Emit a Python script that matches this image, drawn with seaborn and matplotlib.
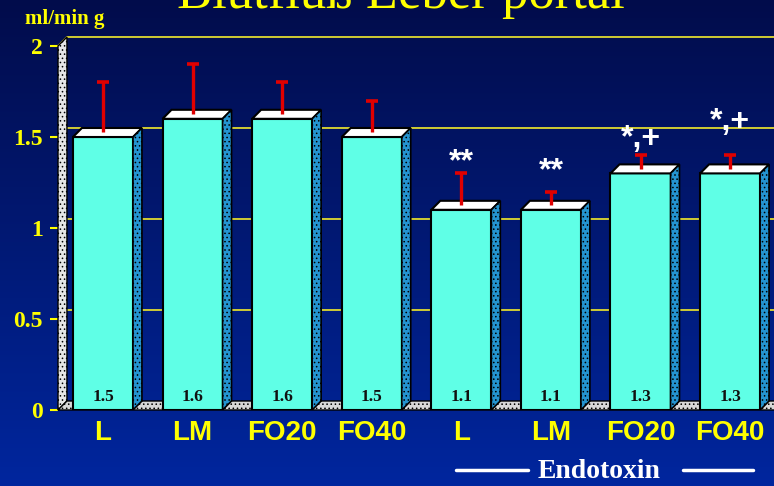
import numpy as np
import pandas as pd
import matplotlib
matplotlib.use('Agg')
import matplotlib.pyplot as plt
from matplotlib.patches import Polygon
from matplotlib.lines import Line2D
import seaborn as sns

# values
gruppen = ['L', 'LM', 'FO20', 'FO40', 'L', 'LM', 'FO20', 'FO40']
mittel = [1.5, 1.6, 1.6, 1.5, 1.1, 1.1, 1.3, 1.3]
sd = [0.3, 0.3, 0.2, 0.2, 0.2, 0.1, 0.1, 0.1]
signif = ['', '', '', '', '**', '**', '*,+', '*,+']
y_ticks = [0, 0.5, 1, 1.5, 2]
y_ticklabels = ['0', '0.5', '1', '1.5', '2']

# how high each significance mark sits above its error bar
sig_abstand = [0, 0, 0, 0, 0.06, 0.11, 0.09, 0.18]

GELB = '#FFFF00'
CYAN = '#5FFFE6'
SERIF = 'Liberation Serif'
SANS = 'Liberation Sans'

df = pd.DataFrame({'pos': range(len(mittel)), 'mittel': mittel})

sns.set_style('white')
plt.rcParams['hatch.linewidth'] = 0.6

fig = plt.figure(figsize=(7.74, 4.86), dpi=100)

# dark blue gradient behind everything
bg = fig.add_axes([0, 0, 1, 1], zorder=-1)
top = np.array([2, 12, 75]) / 255
bottom = np.array([0, 38, 158]) / 255
t = np.linspace(0, 1, 256)[:, None]
grad = top + (bottom - top) * t
bg.imshow(grad[:, None, :].repeat(2, axis=1), aspect='auto', extent=[0, 1, 0, 1])
bg.set_axis_off()

ax = fig.add_axes([58 / 774, 76 / 486, 716 / 774, 364 / 486])
ax.set_facecolor('none')

sns.barplot(data=df, x='pos', y='mittel', color=CYAN, saturation=1, width=0.67,
            edgecolor='black', linewidth=1.5, errorbar=None, ax=ax, zorder=2)

xl, xr = -0.502, 7.49
ax.set_xlim(xl, xr)
ax.set_ylim(0, 2)
DX, DY = 0.10, 0.0495   # depth of the fake 3d in data units

# back wall, floor and grid
wall = Polygon([(xl, 0), (xl, 2), (xl + DX, 2 + DY), (xl + DX, DY)], closed=True,
               facecolor='#e6e6e6', edgecolor='black', hatch='....', lw=1,
               clip_on=False, zorder=0.6)
ax.add_patch(wall)
floor = Polygon([(xl, 0), (xr + 1, 0), (xr + 1 + DX, DY), (xl + DX, DY)], closed=True,
                facecolor='#d8d8d8', edgecolor='black', hatch='....', lw=1,
                clip_on=False, zorder=0.6)
ax.add_patch(floor)
for v in y_ticks[1:]:
    ax.add_line(Line2D([xl, xl + DX, xr + 1], [v, v + DY, v + DY], color='#E0DA30',
                       lw=1.3, clip_on=False, zorder=0.5))

# tops and side faces of the bars
for p in ax.patches:
    if not hasattr(p, 'get_width') or p in (wall, floor):
        continue
    x0, w, h = p.get_x(), p.get_width(), p.get_height()
    ax.add_patch(Polygon([(x0, h), (x0 + w, h), (x0 + w + DX, h + DY), (x0 + DX, h + DY)],
                         closed=True, facecolor='white', edgecolor='black', lw=1.5, zorder=2.1))
    ax.add_patch(Polygon([(x0 + w, 0), (x0 + w + DX, DY), (x0 + w + DX, h + DY), (x0 + w, h)],
                         closed=True, facecolor='#2494d0', edgecolor='black', hatch='....',
                         lw=1.2, zorder=2.1))

# error bars (upper half only)
for i, (m, s) in enumerate(zip(mittel, sd)):
    ax.vlines(i, m + DY / 2, m + s, color='#E00000', lw=2.4, zorder=3)
    ax.hlines(m + s, i - 0.067, i + 0.067, color='#E00000', lw=2.6, zorder=3)
    ax.text(i, 0.072, f'{m:.1f}', ha='center', va='center', fontsize=12.5,
            fontweight='bold', family=SERIF, color='#101010', zorder=4)
    if signif[i]:
        ax.text(i, m + s + sig_abstand[i], signif[i], ha='center', va='center',
                fontsize=23, fontweight='bold', family=SANS, color='white', zorder=4)

sns.despine(ax=ax, left=True, bottom=True)
ax.set_xlabel('')
ax.set_ylabel('')
ax.set_yticks(y_ticks)
ax.set_yticklabels(y_ticklabels, fontsize=17, fontweight='bold', family=SERIF)
ax.set_xticks(range(len(gruppen)))
ax.set_xticklabels(gruppen, fontsize=20, fontweight='bold', family=SANS)
ax.tick_params(axis='y', colors=GELB, length=6, width=1.5, direction='out', pad=5, left=True)
ax.tick_params(axis='x', colors=GELB, length=0, pad=7)

# slide texts
fig.text(401 / 774, 1 - 8 / 486, 'Blutfluß Leber portal', ha='center', va='baseline',
         fontsize=38, family=SERIF, color=GELB)
fig.text(25 / 774, 1 - 24 / 486, 'ml/min g', ha='left', va='baseline',
         fontsize=15, fontweight='bold', family=SERIF, color=GELB)
fig.text(599 / 774, 1 - 471 / 486, 'Endotoxin', ha='center', va='center',
         fontsize=20, fontweight='bold', family=SERIF, color='white')
for a, b in [(456, 528), (683, 753)]:
    fig.add_artist(Line2D([a / 774, b / 774], [1 - 470 / 486] * 2, color='white', lw=2.5))

fig.savefig('out.png', dpi=100)
